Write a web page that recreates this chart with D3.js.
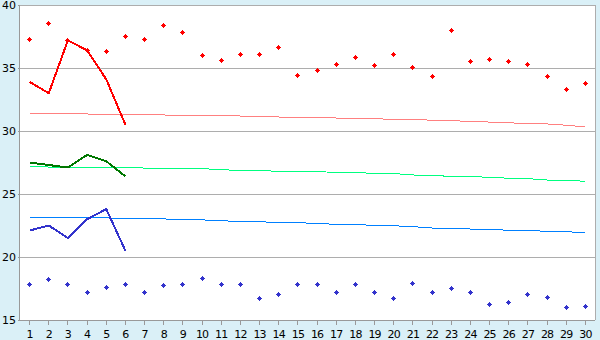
<!DOCTYPE html>
<html><head><meta charset="utf-8">
<script src="https://cdn.jsdelivr.net/npm/d3@7"></script>
<style>
html,body{margin:0;padding:0;background:#daf0f7;}
svg{display:block;}
text{font-family:"DejaVu Sans",Verdana,sans-serif;font-size:11px;fill:#000;}
</style></head><body>
<svg id="c" width="600" height="340"></svg>
<script>
const days = [1,2,3,4,5,6,7,8,9,10,11,12,13,14,15,16,17,18,19,20,21,22,23,24,25,26,27,28,29,30];
const yTicks = [15,20,25,30,35,40];
// daily extremes (markers)
const maxPoints = [37.3,38.5,37.2,36.4,36.3,37.5,37.3,38.4,37.8,36.0,35.6,36.1,36.1,36.6,34.4,34.8,35.3,35.8,35.2,36.1,35.0,34.3,38.0,35.5,35.7,35.5,35.3,34.3,33.3,33.8];
const minPoints = [17.8,18.2,17.8,17.2,17.6,17.8,17.2,17.7,17.8,18.3,17.8,17.8,16.7,17.0,17.8,17.8,17.2,17.8,17.2,16.7,17.9,17.2,17.5,17.2,16.2,16.4,17.0,16.8,16.0,16.1];
// observed series (first 6 days)
const maxObs = [33.9,33.0,37.2,36.4,34.1,30.5];
const meanObs = [27.5,27.3,27.1,28.1,27.6,26.4];
const minObs = [22.1,22.5,21.5,23.0,23.8,20.5];
// normals
const maxNormal = [31.40,31.40,31.38,31.35,31.33,31.31,31.29,31.27,31.25,31.24,31.21,31.19,31.17,31.11,31.10,31.07,31.03,30.99,30.96,30.94,30.91,30.86,30.83,30.75,30.71,30.65,30.59,30.56,30.46,30.32];
const meanNormal = [27.22,27.14,27.14,27.14,27.12,27.10,27.06,27.05,27.03,27.02,26.92,26.88,26.86,26.80,26.80,26.77,26.72,26.70,26.64,26.62,26.51,26.47,26.40,26.38,26.33,26.25,26.22,26.11,26.09,26.01];
const minNormal = [23.15,23.15,23.15,23.13,23.10,23.07,23.05,23.02,22.98,22.95,22.87,22.83,22.79,22.75,22.73,22.65,22.60,22.56,22.52,22.48,22.41,22.30,22.28,22.22,22.20,22.12,22.10,22.04,22.02,21.90];

const svg = d3.select("#c");
const L = 20, R = 595, T = 5, B = 320;
const x = d3.scaleBand().domain(days).range([L, R]).padding(0);
const y = d3.scaleLinear().domain([15, 40]).range([B, T]);
const cx = d => x(d) + x.bandwidth() / 2;

// plot background
svg.append("rect").attr("x", L).attr("y", T).attr("width", R - L).attr("height", B - T).attr("fill", "#fff");

// grid lines
svg.append("g").selectAll("line").data(yTicks).join("line")
  .attr("x1", L).attr("x2", R)
  .attr("y1", d => Math.round(y(d)) + 0.5).attr("y2", d => Math.round(y(d)) + 0.5)
  .attr("stroke", "#adadad").attr("shape-rendering", "crispEdges");
// right border
svg.append("line").attr("x1", R + 0.5).attr("x2", R + 0.5).attr("y1", T).attr("y2", B)
  .attr("stroke", "#adadad").attr("shape-rendering", "crispEdges");

// axes
const ax = svg.append("g").attr("transform", `translate(0,${B})`)
  .call(d3.axisBottom(x).tickSize(5).tickSizeOuter(0).tickPadding(4));
ax.selectAll("text").attr("font-size", 11).attr("letter-spacing", "-0.8px").attr("dy", "0.85em");
const ay = svg.append("g").attr("transform", `translate(${L},0)`)
  .call(d3.axisLeft(y).tickValues(yTicks).tickSize(2).tickSizeOuter(0).tickPadding(2));
ay.selectAll("text").attr("font-size", 11);
svg.selectAll(".domain, .tick line").attr("stroke", "#999").attr("shape-rendering", "crispEdges");
ax.select(".domain").attr("d", `M${L},0.5H${R}`);
ay.select(".domain").attr("d", `M-0.5,${B}V${T}`);

// normal lines
const lineN = d3.line().x((d, i) => cx(days[i])).y(d => y(d));
[[maxNormal, "#ff8080"], [meanNormal, "#00ff80"], [minNormal, "#0080ff"]].forEach(([arr, col]) => {
  svg.append("path").attr("d", lineN(arr)).attr("fill", "none").attr("stroke", col)
    .attr("stroke-width", 1).attr("shape-rendering", "crispEdges");
});

// observed lines
[[maxObs, "#ff0000"], [meanObs, "#007700"], [minObs, "#3333cc"]].forEach(([arr, col]) => {
  svg.append("path").attr("d", lineN(arr)).attr("fill", "none").attr("stroke", col)
    .attr("stroke-width", 2).attr("stroke-linejoin", "round").attr("shape-rendering", "crispEdges");
});

// markers
function marker(px, py) {
  const a = Math.round(px), b = Math.round(py);
  return `M${a},${b - 2}h1v1h1v1h1v1h-1v1h-1v1h-1v-1h-1v-1h-1v-1h1v-1h1z`;
}
[[maxPoints, "#ff0000"], [minPoints, "#3333cc"]].forEach(([arr, col]) => {
  svg.append("g").selectAll("path").data(arr).join("path")
    .attr("d", (d, i) => marker(cx(days[i]) - 0.5, y(d) - 0.5))
    .attr("fill", col).attr("shape-rendering", "crispEdges");
});
</script>
</body></html>
